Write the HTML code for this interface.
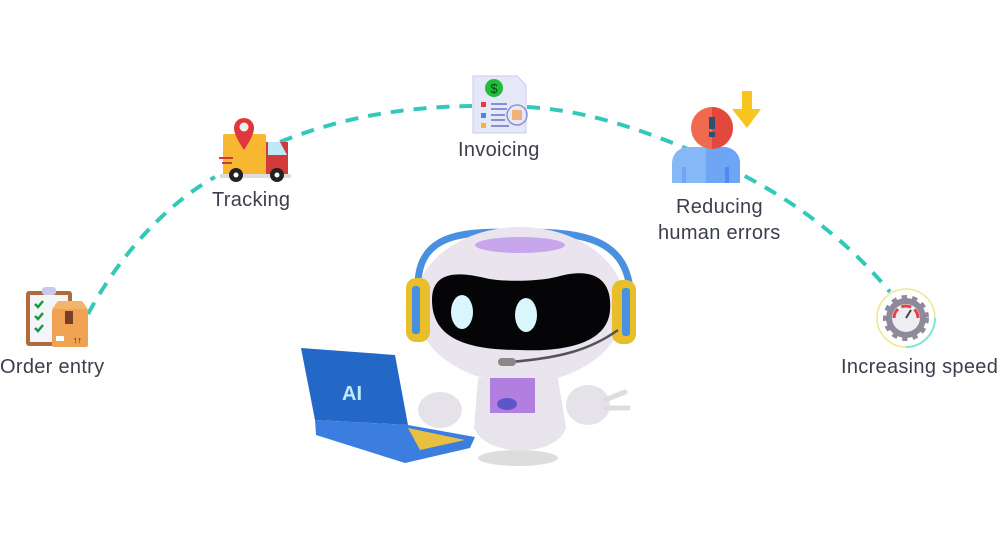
<!DOCTYPE html>
<html><head><meta charset="utf-8"><style>
html,body{margin:0;padding:0;background:#fff;}
body{width:1000px;height:540px;position:relative;overflow:hidden;font-family:"Liberation Sans",sans-serif;}
.l{position:absolute;color:#3b3e4c;font-size:20px;letter-spacing:0.3px;white-space:nowrap;line-height:26px;}
</style></head><body>
<svg width="1000" height="540" style="position:absolute;left:0;top:0">
<g fill="none" stroke="#33c9b8" stroke-width="4" stroke-dasharray="13,10" stroke-linecap="butt">
<path d="M88,314 C120,255 165,205 215,177"/>
<path d="M280,142 C340,118 400,107 472,106"/>
<path d="M527,107 C580,110 630,125 690,150 C760,180 830,220 890,292"/>
</g>
<!-- order entry icon -->
<rect x="26" y="291" width="46" height="55" rx="3" fill="#b06a3c"/>
<rect x="30" y="295" width="38" height="47" fill="#f4f4fb"/>
<rect x="42" y="287" width="14" height="8" rx="3" fill="#c9c7ee"/>
<path d="M35,304l3,3 5,-6M35,316l3,3 5,-6M35,328l3,3 5,-6" stroke="#1a9a3a" stroke-width="2.5" fill="none"/>
<rect x="52" y="309" width="36" height="38" rx="2" fill="#f0a253"/>
<path d="M52,309 l6,-8 h24 l6,8z" fill="#f3b56e"/>
<rect x="65" y="311" width="8" height="13" fill="#7a3a2c"/>
<rect x="56" y="336" width="8" height="5" fill="#fff"/>
<text x="73" y="343" font-size="9" fill="#14205a" font-weight="bold">↑↑</text>
<!-- truck -->
<rect x="223" y="134" width="43" height="42" rx="2" fill="#f7b730"/>
<rect x="266" y="142" width="22" height="34" fill="#d23a3a"/>
<path d="M268,142 h12 l7,13 h-19z" fill="#bde9f7"/>
<rect x="220" y="174" width="71" height="4" fill="#ddd"/>
<circle cx="236" cy="175" r="7" fill="#222"/><circle cx="236" cy="175" r="2.5" fill="#fff"/>
<circle cx="277" cy="175" r="7" fill="#222"/><circle cx="277" cy="175" r="2.5" fill="#fff"/>
<rect x="219" y="157" width="14" height="2" fill="#d23a3a"/><rect x="222" y="162" width="10" height="2" fill="#d23a3a"/>
<path d="M244,150 C236,138 234,132 234,128 a10,10 0 0 1 20,0 c0,4 -2,10 -10,22z" fill="#e0363d"/>
<circle cx="244" cy="127" r="4.5" fill="#eee"/>
<!-- invoice -->
<path d="M473,76 h44 l9,9 v48 h-53z" fill="#e6e8fa" stroke="#c8cbe8"/>
<circle cx="494" cy="88" r="9" fill="#1fbd3a"/>
<text x="494" y="93" font-size="13" fill="#0a4a12" text-anchor="middle">$</text>
<rect x="481" y="102" width="5" height="5" fill="#e83a3a"/><rect x="481" y="113" width="5" height="5" fill="#3a8ee8"/><rect x="481" y="123" width="5" height="5" fill="#f4b430"/>
<path d="M491,104h16M491,109h16M491,115h14M491,120h14M491,126h18" stroke="#6672c8" stroke-width="1.5"/>
<circle cx="517" cy="115" r="10" fill="none" stroke="#8a93d6" stroke-width="1.5"/>
<rect x="512" y="110" width="10" height="10" fill="#f0b07a"/>
<!-- person -->
<path d="M672,183 v-20 a16,16 0 0 1 16,-16 h36 a16,16 0 0 1 16,16 v20z" fill="#86b7f7"/>
<path d="M706,147 h18 a16,16 0 0 1 16,16 v20 h-34z" fill="#6ea6f5"/>
<circle cx="712" cy="128" r="21" fill="#f06a4f"/>
<path d="M712,107 a21,21 0 0 1 0,42z" fill="#e2483d"/>
<rect x="709" y="117" width="6" height="12" fill="#2f5070"/><rect x="709" y="132" width="6" height="5" fill="#2f5070"/>
<rect x="682" y="167" width="4" height="16" fill="#6ea6f5"/><rect x="725" y="167" width="4" height="16" fill="#4c8cf0"/>
<path d="M742,91 h10 v18 h9 l-14,19 -15,-19 h10z" fill="#f7c51e"/>
<!-- gear -->
<circle cx="906" cy="318" r="29" fill="none" stroke="#f0e68a" stroke-width="1.5"/>
<path d="M906,347 a29,29 0 0 0 29,-29" fill="none" stroke="#7fe8d5" stroke-width="2"/>
<circle cx="906" cy="318" r="20" fill="#8e8a99" stroke="#8e8a99" stroke-width="6" stroke-dasharray="5,5"/>
<circle cx="906" cy="318" r="14" fill="#eeeef2"/>
<path d="M894,318 a12,12 0 0 1 24,0" fill="none" stroke="#e84040" stroke-width="3" stroke-dasharray="10,4"/>
<path d="M906,318 l5,-8" stroke="#444" stroke-width="2"/>
<!-- robot -->
<ellipse cx="518" cy="458" rx="40" ry="8" fill="#ddd"/>
<path d="M418,283 C420,230 470,232 520,232 C575,232 625,235 630,290" fill="none" stroke="#4a90e0" stroke-width="7"/>
<ellipse cx="520" cy="305" rx="105" ry="78" fill="#e9e4ee"/>
<ellipse cx="520" cy="245" rx="45" ry="8" fill="#c8a6ec"/>
<path d="M432,300 C432,270 460,272 485,278 C500,282 540,282 560,276 C600,266 612,285 610,310 C608,345 560,352 520,350 C470,350 432,340 432,300z" fill="#050507"/>
<ellipse cx="462" cy="312" rx="11" ry="17" fill="#d8f6fc"/>
<ellipse cx="526" cy="315" rx="11" ry="17" fill="#d8f6fc"/>
<rect x="406" y="278" width="24" height="64" rx="10" fill="#e8bf2a"/>
<rect x="412" y="286" width="8" height="48" rx="3" fill="#4a90e0"/>
<rect x="612" y="280" width="24" height="64" rx="10" fill="#e8bf2a"/>
<rect x="622" y="288" width="8" height="48" rx="3" fill="#4a90e0"/>
<path d="M618,330 C590,350 560,358 510,362" fill="none" stroke="#555" stroke-width="2.5"/>
<rect x="498" y="358" width="18" height="8" rx="4" fill="#888"/>
<path d="M478,378 h80 l8,50 c-10,30 -80,30 -92,0z" fill="#e8e4ec"/>
<path d="M490,378 h45 v35 h-45z" fill="#b07fe0"/>
<ellipse cx="507" cy="404" rx="10" ry="6" fill="#5d55c9"/>
<ellipse cx="440" cy="410" rx="22" ry="18" fill="#e6e2ea"/>
<ellipse cx="588" cy="405" rx="22" ry="20" fill="#e6e2ea"/>
<path d="M605,400 l20,-8 M606,408 l22,0" stroke="#ddd" stroke-width="5" stroke-linecap="round"/>
<!-- laptop -->
<path d="M301,348 L395,355 L408,425 L315,420z" fill="#2468c7"/>
<path d="M315,420 L408,425 L475,437 L470,448 L405,463 L316,435z" fill="#3c7ee0"/>
<path d="M408,428 L465,440 L420,450z" fill="#e8c040"/>
<text x="342" y="400" font-size="20" font-weight="bold" fill="#bfeaff" font-family="Liberation Sans">AI</text>
</svg>
<div class="l" style="left:0;top:354px">Order entry</div>
<div class="l" style="left:212px;top:187px">Tracking</div>
<div class="l" style="left:458px;top:137px">Invoicing</div>
<div class="l" style="left:676px;top:194px">Reducing</div>
<div class="l" style="left:658px;top:220px">human errors</div>
<div class="l" style="left:841px;top:354px">Increasing speed</div>
</body></html>
